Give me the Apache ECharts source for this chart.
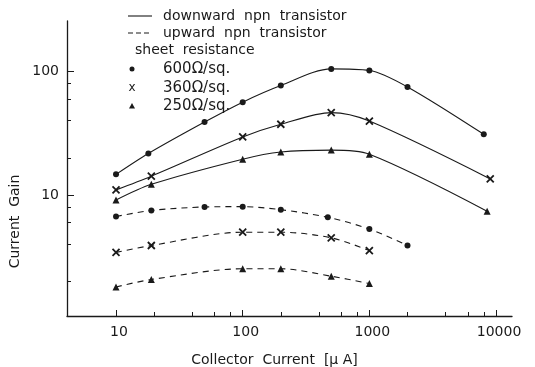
<!DOCTYPE html>
<html>
<head>
<meta charset="utf-8">
<script src="https://cdn.jsdelivr.net/npm/echarts@6/dist/echarts.min.js"></script>
<style>
  html, body { margin: 0; padding: 0; background: #fff; }
  #chart { width: 535px; height: 367px; }
</style>
</head>
<body>
<div id="chart"></div>
<script>
// collector current [uA] / current gain
const downX600 = [10, 18, 50, 100, 200, 500, 1000, 2000, 8000]
const down600 = [14.7, 21.7, 39, 56.5, 77, 105, 102, 75, 31]
const downX360 = [10, 19, 100, 200, 500, 1000, 9000]
const down360 = [11.0, 14.2, 29.5, 37.4, 46.5, 39.7, 13.5]
const downX250 = [10, 19, 100, 200, 500, 1000, 8500]
const down250 = [9.1, 12.2, 19.5, 22.3, 23.1, 21.4, 7.4]

const upX600 = [10, 19, 50, 100, 200, 470, 1000, 2000]
const up600 = [6.7, 7.5, 8.0, 8.05, 7.6, 6.6, 5.3, 3.9]
const upX360 = [10, 19, 100, 200, 500, 1000]
const up360 = [3.43, 3.9, 5.0, 5.0, 4.5, 3.55]
const upX250 = [10, 19, 100, 200, 500, 1000]
const up250 = [1.8, 2.07, 2.53, 2.53, 2.2, 1.92]

const xMajor = [10, 100, 1000, 10000]
const xMinor = [20, 40, 60, 80, 200, 400, 600, 800, 2000, 4000, 6000, 8000]
const yMajor = [10, 100]
const yMinor = [2, 4, 6, 8, 20, 40, 60, 80]

const ink = '#1a1a1a'
const font = 'DejaVu Sans'
const lg = Math.log10
const crossPath = 'path://M0,0L10,10M10,0L0,10'

const pts = (xs, ys) => xs.map((x, i) => [lg(x), lg(ys[i])])

const mkSeries = (xs, ys, dashed, symbol, size) => ({
  type: 'line',
  data: pts(xs, ys),
  smooth: 0.3,
  symbol: symbol,
  symbolSize: size,
  showAllSymbol: true,
  lineStyle: { color: ink, width: 1.1, type: dashed ? [6, 5] : 'solid' },
  itemStyle: { color: ink, borderColor: ink, borderWidth: symbol === crossPath ? 1.8 : 0 },
  emphasis: { disabled: true },
  z: 3
})

const axisBase = (min, max) => ({
  type: 'value',
  min: min,
  max: max,
  splitLine: { show: false }
})

const chart = echarts.init(document.getElementById('chart'))
const option = {
  animation: false,
  backgroundColor: '#fff',
  grid: { left: 67, right: 23, top: 21, bottom: 51, outerBoundsMode: 'none', containLabel: false },
  xAxis: [
    Object.assign(axisBase(0.613, 4.126), {
      axisLine: { lineStyle: { color: ink, width: 1.3 } },
      axisTick: { inside: true, length: 4, customValues: xMinor.map(lg), lineStyle: { color: ink } },
      axisLabel: { show: false },
      name: 'Collector  Current  [\u03bc A]',
      nameLocation: 'middle',
      nameGap: 37,
      nameTextStyle: { color: ink, fontFamily: font, fontSize: 14, padding: [0, 30, 0, 0] }
    }),
    Object.assign(axisBase(0.613, 4.126), {
      position: 'bottom',
      axisLine: { show: false },
      axisTick: { inside: true, length: 6, customValues: xMajor.map(lg), lineStyle: { color: ink } },
      axisLabel: {
        customValues: xMajor.map(lg),
        formatter: v => String(Math.round(Math.pow(10, v))),
        color: ink, fontFamily: font, fontSize: 14, margin: 9,
        padding: [0, 0, 0, 6]
      }
    })
  ],
  yAxis: [
    Object.assign(axisBase(0.0202, 2.409), {
      axisLine: { lineStyle: { color: ink, width: 1.3 } },
      axisTick: { inside: true, length: 4, customValues: yMinor.map(lg), lineStyle: { color: ink } },
      axisLabel: { show: false },
      name: 'Current  Gain',
      nameLocation: 'middle',
      nameGap: 45,
      nameRotate: 90,
      nameTextStyle: { color: ink, fontFamily: font, fontSize: 14, padding: [0, 106, 0, 0] }
    }),
    Object.assign(axisBase(0.0202, 2.409), {
      position: 'left',
      axisLine: { show: false },
      axisTick: { inside: true, length: 7, customValues: yMajor.map(lg), lineStyle: { color: ink } },
      axisLabel: {
        customValues: yMajor.map(lg),
        formatter: v => String(Math.round(Math.pow(10, v))),
        color: ink, fontFamily: font, fontSize: 14, margin: 8
      }
    })
  ],
  series: [
    mkSeries(downX600, down600, false, 'circle', 6),
    mkSeries(downX360, down360, false, crossPath, 7),
    mkSeries(downX250, down250, false, 'triangle', 7),
    mkSeries(upX600, up600, true, 'circle', 6),
    mkSeries(upX360, up360, true, crossPath, 7),
    mkSeries(upX250, up250, true, 'triangle', 7)
  ],
  graphic: [
    { type: 'line', shape: { x1: 128, y1: 16, x2: 152, y2: 16 }, style: { stroke: ink, lineWidth: 1.1 } },
    { type: 'text', x: 163, y: 16, style: { text: 'downward  npn  transistor', fill: ink, font: '14px ' + font, textVerticalAlign: 'middle' } },
    { type: 'line', shape: { x1: 128, y1: 33, x2: 152, y2: 33 }, style: { stroke: ink, lineWidth: 1.1, lineDash: [5, 3] } },
    { type: 'text', x: 163, y: 33, style: { text: 'upward  npn  transistor', fill: ink, font: '14px ' + font, textVerticalAlign: 'middle' } },
    { type: 'text', x: 135, y: 50, style: { text: 'sheet  resistance', fill: ink, font: '14px ' + font, textVerticalAlign: 'middle' } },
    { type: 'circle', shape: { cx: 132, cy: 69, r: 2.5 }, style: { fill: ink } },
    { type: 'text', x: 163, y: 69, style: { text: '600\u03a9/sq.', fill: ink, font: '15px ' + font, textVerticalAlign: 'middle' } },
    { type: 'text', x: 132, y: 88, style: { text: 'x', fill: ink, font: '12px ' + font, textAlign: 'center', textVerticalAlign: 'middle' } },
    { type: 'text', x: 163, y: 88, style: { text: '360\u03a9/sq.', fill: ink, font: '15px ' + font, textVerticalAlign: 'middle' } },
    { type: 'polygon', shape: { points: [[132, 103], [135, 108.5], [129, 108.5]] }, style: { fill: ink } },
    { type: 'text', x: 163, y: 106, style: { text: '250\u03a9/sq.', fill: ink, font: '15px ' + font, textVerticalAlign: 'middle' } }
  ]
}
chart.setOption(option)
</script>
</body>
</html>
